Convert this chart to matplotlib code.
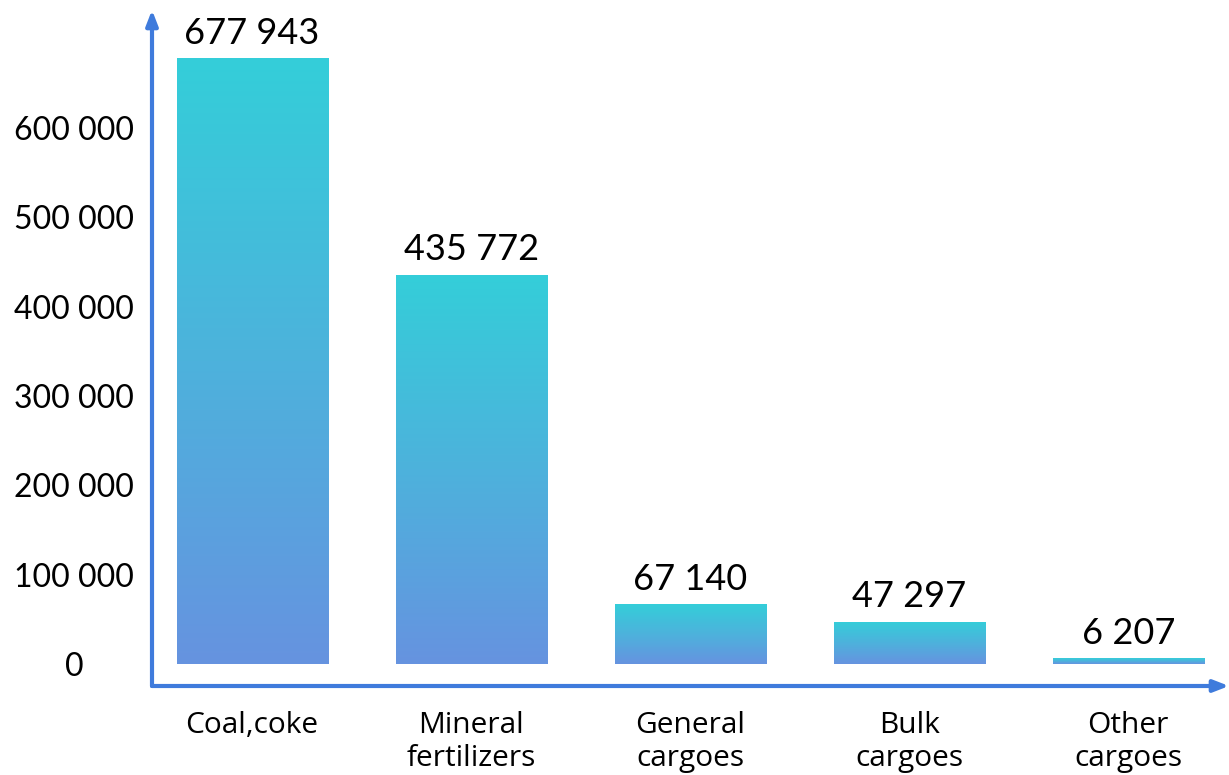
import numpy as np
import matplotlib
matplotlib.use("Agg")
import matplotlib.pyplot as plt
from matplotlib.colors import LinearSegmentedColormap

categories = ["Coal,coke", "Mineral\nfertilizers", "General\ncargoes", "Bulk\ncargoes", "Other\ncargoes"]
values = [677943, 435772, 67140, 47297, 6207]
value_labels = ["677 943", "435 772", "67 140", "47 297", "6 207"]
yticks = [0, 100000, 200000, 300000, 400000, 500000, 600000]
ytick_labels = ["0", "100 000", "200 000", "300 000", "400 000", "500 000", "600 000"]

axis_color = "#3F7BDC"
grad = LinearSegmentedColormap.from_list("bar_grad", ["#6693E0", "#4DB2DC", "#34CED9"])

fig = plt.figure(figsize=(12.29, 7.75), dpi=100)
ax = fig.add_axes([152 / 1229, 1 - 686 / 775, 1077 / 1229, 676 / 775])

x = np.arange(len(categories))
bars = ax.bar(x, values, width=0.69, color="none", edgecolor="none")

ymin, ymax = -24600, 732000
xmin, xmax = -0.457, 4.46

# gradient fill for each bar, top cyan -> bottom blue
g = np.linspace(0, 1, 256).reshape(-1, 1)
for b in bars:
    x0, y0 = b.get_x(), b.get_y()
    w, h = b.get_width(), b.get_height()
    im = ax.imshow(g, cmap=grad, origin="lower", aspect="auto",
                   extent=[x0, x0 + w, y0, y0 + h], zorder=2)
    im.set_clip_path(b)

for xi, v, lab in zip(x, values, value_labels):
    ax.annotate(lab, (xi, v), xytext=(0, 6), textcoords="offset points",
                ha="center", va="bottom", fontsize=26, family="Lato", color="black")

ax.set_xlim(xmin, xmax)
ax.set_ylim(ymin, ymax)

ax.set_yticks(yticks)
ax.set_yticklabels(ytick_labels, fontsize=23, family="Lato")
for t in ax.get_yticklabels():
    t.set_ha("center")
ax.tick_params(axis="y", length=0, pad=56)

ax.set_xticks(x)
ax.set_xticklabels(categories, fontsize=21.5, family="Open Sans", linespacing=1.2)
for t in ax.get_xticklabels():
    t.set_va("top")
ax.tick_params(axis="x", length=0, pad=18)

for s in ax.spines.values():
    s.set_visible(False)

# axes with arrow heads
ax.annotate("", xy=(0, 1), xytext=(0, 0), xycoords="axes fraction",
            arrowprops=dict(arrowstyle="-|>,head_width=0.35,head_length=0.9",
                            color=axis_color, lw=3, shrinkA=0, shrinkB=0),
            annotation_clip=False)
ax.annotate("", xy=(1, 0), xytext=(0, 0), xycoords="axes fraction",
            arrowprops=dict(arrowstyle="-|>,head_width=0.35,head_length=0.9",
                            color=axis_color, lw=3, shrinkA=0, shrinkB=0),
            annotation_clip=False)

fig.savefig("out.png", dpi=100, facecolor="white")
